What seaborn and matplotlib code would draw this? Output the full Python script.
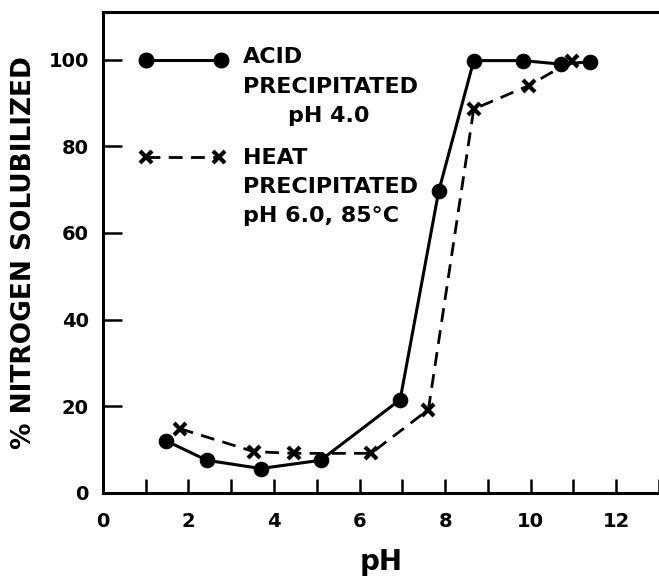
import matplotlib
matplotlib.use("Agg")
import matplotlib.pyplot as plt
import seaborn as sns
import pandas as pd

# acid precipitated protein (pH 4.0)
acid_ph = [1.48, 2.43, 3.69, 5.09, 6.95, 7.85, 8.67, 9.81, 10.70, 11.39]
acid_n = [12.0, 7.5, 5.6, 7.5, 21.5, 69.6, 99.8, 99.8, 99.0, 99.5]

# heat precipitated protein (pH 6.0, 85 C)
heat_ph = [1.80, 3.53, 4.46, 6.27, 7.61, 8.67, 9.95, 10.97]
heat_n = [14.8, 9.5, 9.1, 9.1, 19.2, 88.6, 94.0, 99.8]

x_ticks = list(range(0, 14))
x_labels = ['0', '', '2', '', '4', '', '6', '', '8', '', '10', '', '12', '']
y_ticks = [0, 20, 40, 60, 80, 100]

acid_lines = ["ACID", "PRECIPITATED", "pH 4.0"]
heat_lines = ["HEAT", "PRECIPITATED", "pH 6.0, 85°C"]

sns.set_style("ticks")
plt.rcParams['font.family'] = ['DejaVu Sans']
plt.rcParams['font.weight'] = 'bold'
plt.rcParams['text.color'] = 'black'
plt.rcParams['axes.labelcolor'] = 'black'
plt.rcParams['xtick.color'] = 'black'
plt.rcParams['ytick.color'] = 'black'
plt.rcParams['axes.edgecolor'] = 'black'

fig = plt.figure(figsize=(6.59, 5.77), dpi=100)
ax = fig.add_axes([0.156, 0.146, 0.844, 0.833])

df_acid = pd.DataFrame({'ph': acid_ph, 'n': acid_n})
df_heat = pd.DataFrame({'ph': heat_ph, 'n': heat_n})

sns.lineplot(data=df_acid, x='ph', y='n', ax=ax, color='black', lw=2.2,
             marker='o', markersize=10.5, markeredgecolor='black', sort=False)
sns.lineplot(data=df_heat, x='ph', y='n', ax=ax, color='black', lw=2.0,
             linestyle=(0, (5, 3)), marker='x', markersize=9,
             markeredgewidth=3, markeredgecolor='black', sort=False)

ax.set_xlim(0, 12.9)
ax.set_ylim(0, 111)
ax.set_xticks(x_ticks)
ax.set_xticklabels(x_labels, fontsize=14, fontweight='bold')
ax.set_yticks(y_ticks)
ax.set_yticklabels([str(v) for v in y_ticks], fontsize=14, fontweight='bold')
ax.tick_params(axis='x', direction='in', length=10, width=1.8, pad=14)
ax.tick_params(axis='y', direction='in', length=14, width=1.8, pad=10)

for s in ['left', 'bottom', 'top']:
    ax.spines[s].set_linewidth(2.2)
ax.spines['right'].set_visible(False)

ax.set_xlabel('pH', fontsize=20, fontweight='bold', labelpad=12)
ax.set_ylabel('% NITROGEN SOLUBILIZED', fontsize=19, fontweight='bold',
              labelpad=8)

# legend keys drawn in axes fraction
ax.plot([0.077, 0.212], [0.900, 0.900], transform=ax.transAxes, color='black',
        lw=2.2, marker='o', markersize=10.5)
ax.plot([0.077, 0.209], [0.699, 0.699], transform=ax.transAxes, color='black',
        lw=2.0, linestyle=(0, (5, 3)), marker='x', markersize=9,
        markeredgewidth=3)

for i, line in enumerate(acid_lines):
    ha = 'center' if i == 2 else 'left'
    xx = 0.407 if i == 2 else 0.252
    ax.text(xx, 0.906 - i * 0.061, line, transform=ax.transAxes, ha=ha,
            va='center', fontsize=16, fontweight='bold')
for i, line in enumerate(heat_lines):
    ax.text(0.252, 0.697 - i * 0.061, line, transform=ax.transAxes,
            ha='left', va='center', fontsize=16, fontweight='bold')

fig.savefig('out.png', dpi=100)
